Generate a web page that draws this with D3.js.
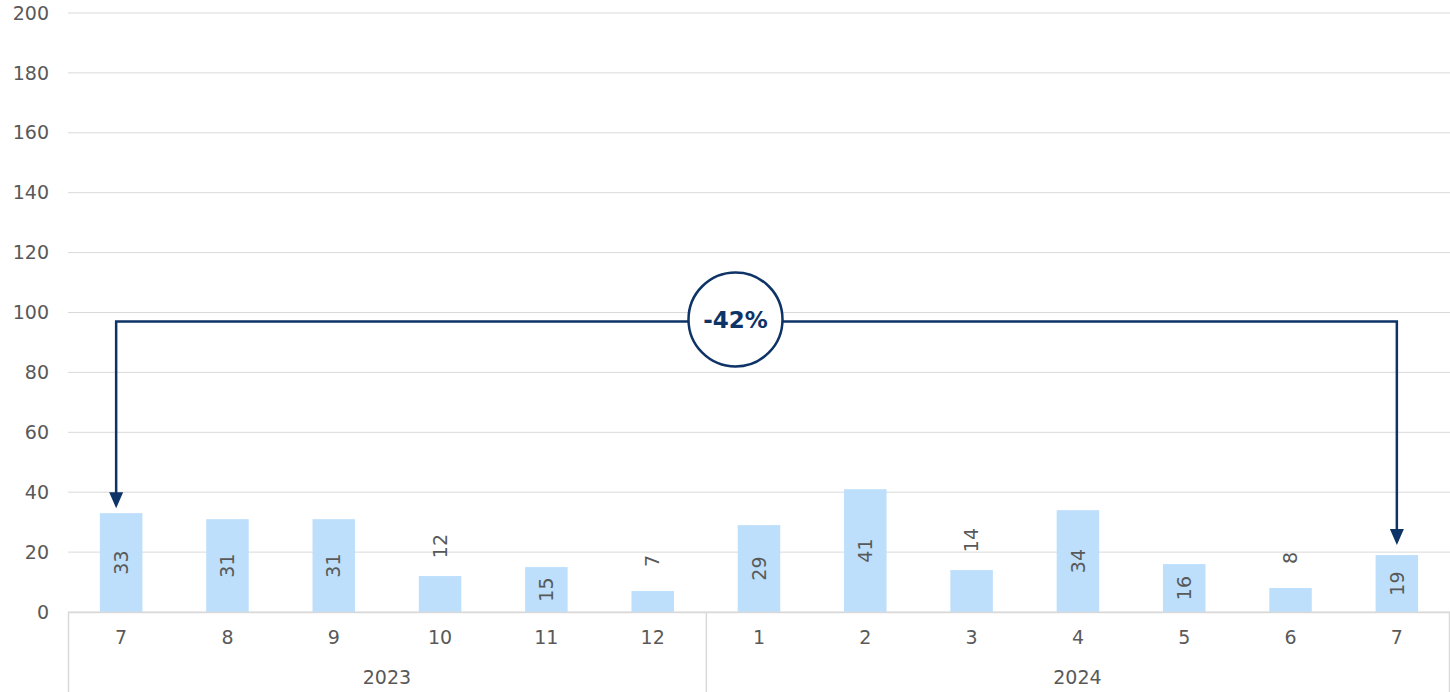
<!DOCTYPE html>
<html><head><meta charset="utf-8">
<script src="https://cdn.jsdelivr.net/npm/d3@7"></script>
<style>
body{margin:0;background:#fff;}
svg{display:block;font-family:Verdana,"DejaVu Sans",sans-serif;}
</style></head>
<body><svg id="c" width="1450" height="692"></svg>
<script>
const months = ["7","8","9","10","11","12","1","2","3","4","5","6","7"];
const years = ["2023","2023","2023","2023","2023","2023","2024","2024","2024","2024","2024","2024","2024"];
const values = [33,31,31,12,15,7,29,41,14,34,16,8,19];
const yTicks = [0,20,40,60,80,100,120,140,160,180,200];
const changeLabel = "-42%";

const svg = d3.select("#c");
const W = 1450, H = 692;
const mLeft = 68, mRight = 1450, mTop = 13, mBottom = 612;
const ids = months.map((m,i)=>i);
const x = d3.scaleBand().domain(ids).range([mLeft, mRight]).paddingInner(0.6).paddingOuter(0.3);
const y = d3.scaleLinear().domain([0,200]).range([mBottom, mTop]);
const textCol = "#595959";
const fs = 19;

// grid
svg.append("g").selectAll("line").data(yTicks).join("line")
  .attr("x1", mLeft).attr("x2", mRight)
  .attr("y1", d=>y(d)).attr("y2", d=>y(d))
  .attr("stroke", "#d9d9d9").attr("stroke-width", 1);

// y labels
svg.append("g").selectAll("text").data(yTicks).join("text")
  .attr("x", 49).attr("y", d=>y(d)).attr("dy","0.35em")
  .attr("text-anchor","end").attr("font-size",fs).attr("fill",textCol)
  .text(d=>d);

// bars
svg.append("g").selectAll("rect").data(values).join("rect")
  .attr("x", (d,i)=>x(i)).attr("width", x.bandwidth())
  .attr("y", d=>y(d)).attr("height", d=>y(0)-y(d))
  .attr("fill", "#BDDFFC");

// value labels
svg.append("g").selectAll("text").data(values).join("text")
  .attr("transform", (d,i)=>{
    const cx = x(i)+x.bandwidth()/2;
    const inside = d >= 15;
    const cy = inside ? (y(d)+y(0))/2 : y(d) - 30;
    return `translate(${cx},${cy}) rotate(-90)`;
  })
  .attr("text-anchor","middle").attr("dy","0.35em")
  .attr("font-size",fs).attr("fill",textCol)
  .text(d=>d);

// x axis
svg.append("line").attr("x1",mLeft).attr("x2",mRight).attr("y1",mBottom+0.5).attr("y2",mBottom+0.5)
  .attr("stroke","#d9d9d9").attr("stroke-width",1.5);
svg.append("g").selectAll("text").data(months).join("text")
  .attr("x",(d,i)=>x(i)+x.bandwidth()/2).attr("y",637).attr("dy","0.35em")
  .attr("text-anchor","middle").attr("font-size",fs).attr("fill",textCol).text(d=>d);

// year groups
const groups = d3.groups(ids, i=>years[i]);
const step = x.step();
const boundaries = [mLeft];
groups.forEach(([yr, idx])=>{
  const last = idx[idx.length-1];
  boundaries.push(last === ids.length-1 ? mRight-1 : x(last)+x.bandwidth()+step*x.paddingInner()/2);
});
svg.append("g").selectAll("line").data(boundaries).join("line")
  .attr("x1",d=>d+0.5).attr("x2",d=>d+0.5).attr("y1",mBottom).attr("y2",H)
  .attr("stroke","#d9d9d9").attr("stroke-width",1.5);
svg.append("g").selectAll("text").data(groups).join("text")
  .attr("x",(g,k)=>(boundaries[k]+boundaries[k+1])/2).attr("y",677).attr("dy","0.35em")
  .attr("text-anchor","middle").attr("font-size",fs).attr("fill",textCol).text(g=>g[0]);

// change annotation
const navy = "#0E3366";
const x0 = x(0)+x.bandwidth()/2 - 5;
const x1 = x(ids.length-1)+x.bandwidth()/2;
const yLine = y(97);
const tip0 = y(values[0]) - 5;
const tip1 = y(values[values.length-1]) - 10;
svg.append("path")
  .attr("d", `M${x0},${tip0-14}V${yLine}H${x1}V${tip1-14}`)
  .attr("fill","none").attr("stroke",navy).attr("stroke-width",2.5);
[[x0,tip0],[x1,tip1]].forEach(([ax,ay])=>{
  svg.append("path").attr("d",`M${ax-7},${ay-16}L${ax+7},${ay-16}L${ax},${ay}Z`).attr("fill",navy);
});
const cx = (x0+x1)/2 - 21;
svg.append("circle").attr("cx",cx).attr("cy",yLine-2).attr("r",47)
  .attr("fill","#fff").attr("stroke",navy).attr("stroke-width",2.5);
svg.append("text").attr("x",cx).attr("y",yLine-2).attr("dy","0.35em")
  .attr("text-anchor","middle").attr("font-size",23).attr("font-weight","bold")
  .attr("fill",navy).text(changeLabel);
</script></body></html>
